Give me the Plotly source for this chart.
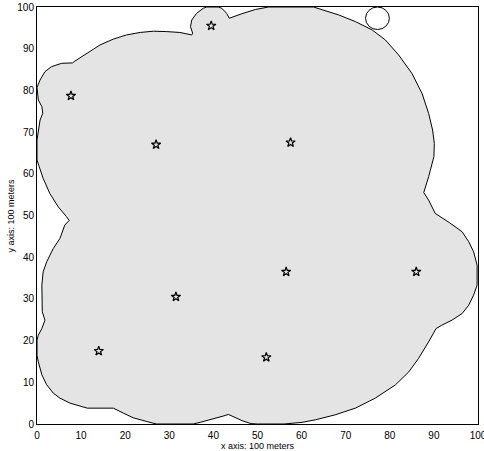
import plotly.graph_objects as go

# Sensor positions (stars)
sensor_x = [7.7, 27.0, 39.5, 57.5, 77.2, 56.5, 86.0, 31.5, 14.0, 52.0]
sensor_y = [78.7, 67.0, 95.5, 67.5, 97.3, 36.5, 36.5, 30.5, 17.5, 16.0]

# Coverage region boundary
coverage_x = [0.0, 0.7, 1.8, 3.3, 5.6, 8.1, 8.4, 11.3, 14.3, 17.3, 20.3, 23.4, 26.4, 29.4, 32.4,
              35.1, 35.3, 34.8, 35.1, 36.2, 37.7, 38.5, 41.1, 41.9, 43.0, 43.6, 44.5, 46.5, 49.5,
              52.5, 62.7, 64.6, 68.4, 72.2, 76.0, 79.0, 82.0, 85.0, 87.3, 88.8, 89.7, 90.1, 90.0,
              88.8, 87.7, 88.8, 90.3, 93.5, 96.4, 97.9, 99.0, 99.8, 99.8, 99.0, 97.9, 96.4, 94.1,
              91.8, 90.5, 88.8, 86.5, 84.3, 81.3, 76.7, 72.2, 67.6, 63.1, 60.1, 56.0, 50.0, 48.5,
              46.5, 44.5, 43.4, 42.2, 40.0, 37.0, 35.4, 27.1, 24.9, 21.8, 19.6, 17.3, 11.4, 10.1,
              7.5, 5.2, 3.7, 2.2, 1.1, 0.3, 0.0, 0.0, 0.3, 1.1, 1.8, 1.2, 1.1, 1.1, 1.4, 2.2, 3.7,
              5.2, 6.3, 7.3, 6.7, 4.8, 2.9, 1.4, 0.5, 0.0, 0.0, 0.4, 0.7, 1.3, 1.1, 0.3, 0.0]
coverage_y = [80.7, 82.5, 84.5, 85.7, 86.5, 86.6, 86.9, 88.9, 90.9, 92.3, 93.3, 93.9, 94.2, 94.1, 93.9,
              93.3, 93.7, 95.3, 96.9, 98.5, 99.7, 100.0, 100.0, 99.7, 98.5, 97.3, 97.7, 98.4, 99.4,
              100.0, 100.0, 99.4, 98.1, 96.5, 94.5, 92.1, 88.5, 84.1, 79.3, 74.5, 70.5, 67.3, 64.1,
              59.3, 55.5, 53.7, 50.5, 48.3, 46.1, 43.7, 41.3, 38.1, 33.3, 30.9, 28.5, 26.5, 24.9,
              23.7, 22.9, 19.7, 15.7, 12.5, 9.4, 6.2, 3.8, 2.2, 1.0, 0.4, 0.0, 0.0, 0.1,
              0.8, 1.8, 2.3, 1.9, 1.2, 0.4, 0.0, 0.0, 0.6, 1.5, 2.6, 3.8, 3.8, 4.2,
              5.0, 6.2, 7.4, 9.4, 11.8, 14.9, 16.5, 20.1, 21.3, 22.9, 24.9, 26.9, 29.3, 33.3, 36.5, 38.9, 42.1,
              44.5, 47.7, 48.8, 49.7, 52.1, 55.3, 58.9, 61.7, 63.3, 68.1, 70.5, 72.9, 74.5, 76.1, 77.7, 80.7]

# Isolated sensor's small coverage circle
small_center_x = 77.2
small_center_y = 97.3
small_radius = 2.7

ticks = [0, 10, 20, 30, 40, 50, 60, 70, 80, 90, 100]
x_title = "x axis: 100 meters"
y_title = "y axis: 100 meters"

FONT = "Liberation Sans, Arial, Helvetica"

fig = go.Figure()
fig.add_trace(go.Scatter(x=coverage_x, y=coverage_y, mode="lines", fill="toself",
                         fillcolor="#e4e4e4", line=dict(color="black", width=1),
                         hoverinfo="skip", showlegend=False))
fig.add_shape(type="circle", xref="x", yref="y",
              x0=small_center_x - small_radius, x1=small_center_x + small_radius,
              y0=small_center_y - small_radius, y1=small_center_y + small_radius,
              line=dict(color="black", width=1), fillcolor="white", layer="above")
fig.add_trace(go.Scatter(x=sensor_x, y=sensor_y, mode="markers",
                         marker=dict(symbol="star-open", size=7, color="black",
                                     line=dict(width=1.2, color="black")),
                         showlegend=False))

axis_common = dict(range=[0, 100], tickvals=ticks, showgrid=False, zeroline=False,
                   showline=True, linecolor="black", linewidth=1, mirror=True,
                   ticks="", automargin=False, ticklabeloverflow="allow",
                   tickfont=dict(family=FONT, size=10, color="black"))
fig.update_layout(
    width=484, height=451,
    margin=dict(l=37, r=6, t=7, b=27),
    plot_bgcolor="white", paper_bgcolor="white",
    xaxis=dict(**axis_common, ticklabelstandoff=2),
    yaxis=dict(**axis_common),
    annotations=[
        dict(text=x_title, xref="paper", yref="paper", x=0.5, y=0, xanchor="center",
             yanchor="top", yshift=-15, showarrow=False,
             font=dict(family=FONT, size=9, color="black")),
        dict(text=y_title, xref="paper", yref="paper", x=0, y=0.5, xanchor="center",
             yanchor="middle", xshift=-27, textangle=-90, showarrow=False,
             font=dict(family=FONT, size=9, color="black")),
    ],
)
fig.write_html("out.html", config={"displayModeBar": False},
               post_script="document.body.style.margin='0';document.body.style.overflow='hidden';")
